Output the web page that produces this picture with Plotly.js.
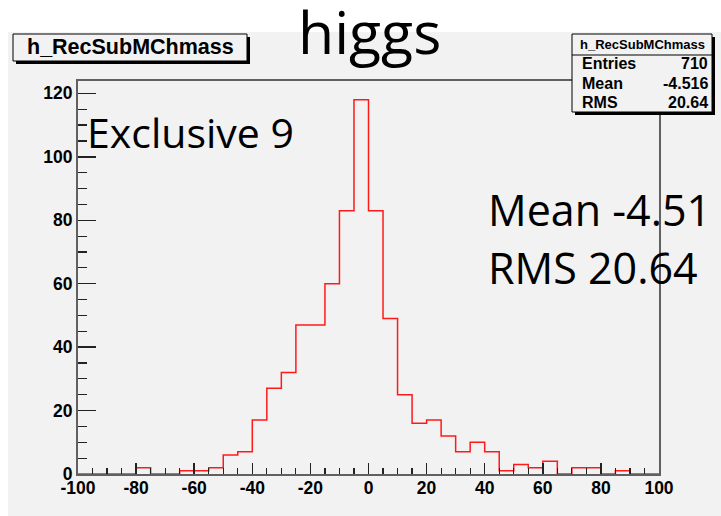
<!DOCTYPE html>
<html>
<head>
<meta charset="utf-8">
<script src="https://cdn.plot.ly/plotly-3.0.1.min.js"></script>
<style>
html,body{margin:0;padding:0;background:#fff;}
#chart{width:721px;height:516px;}
</style>
</head>
<body>
<div id="chart"></div>
<script>
// ---- data ----
var binLow = -100;
var binWidth = 5;
var counts = [0, 0, 0, 0, 2, 0, 0, 1, 1, 2,
              6, 7, 17, 27, 32, 47, 47, 60, 83, 118,
              83, 49, 25, 16, 17, 12, 7, 10, 7, 1,
              3, 2, 4, 0, 2, 2, 0, 1, 0, 0];
var xTickVals = [-100, -80, -60, -40, -20, 0, 20, 40, 60, 80, 100];
var yTickVals = [0, 20, 40, 60, 80, 100, 120];
var histName = "h_RecSubMChmass";
var statLabels = ["Entries", "Mean", "RMS"];
var statValues = ["710", "-4.516", "20.64"];
var titleText = "higgs";
var noteText = "Exclusive 9";
var meanText = "Mean -4.51";
var rmsText = "RMS 20.64";

// ---- step outline built from bins ----
var edges = [];
for (var i = 0; i <= counts.length; i++) edges.push(binLow + i * binWidth);
var xs = [edges[0]], ys = [0];
for (var i = 0; i < counts.length; i++) { xs.push(edges[i]); ys.push(counts[i]); }
xs.push(edges[counts.length]); ys.push(counts[counts.length - 1]);
xs.push(edges[counts.length]); ys.push(0);

// ---- pixel -> paper helpers ----
var L = 78, T = 81, W = 581, H = 393, FW = 721, FH = 516;
function px(x) { return (x - L) / W; }
function py(y) { return (T + H - y) / H; }

var GRAY = '#f2f2f2';
var helv = 'Liberation Sans, Arial, sans-serif';
var calib = 'Open Sans, Noto Sans, sans-serif';

var shapes = [
  // canvas gray area
  {type:'rect', xref:'paper', yref:'paper', x0:px(8), x1:px(721), y0:py(516), y1:py(32),
   fillcolor:GRAY, line:{width:0}, layer:'below'},
  // title box shadow + box
  {type:'rect', xref:'paper', yref:'paper', x0:px(16), x1:px(250), y0:py(64), y1:py(37),
   fillcolor:'#000', line:{width:0}, layer:'above'},
  {type:'rect', xref:'paper', yref:'paper', x0:px(13), x1:px(247), y0:py(61), y1:py(34),
   fillcolor:GRAY, line:{color:'#000', width:1}, layer:'above'},
  // stats box shadow + box
  {type:'rect', xref:'paper', yref:'paper', x0:px(575), x1:px(715), y0:py(115), y1:py(37),
   fillcolor:'#000', line:{width:0}, layer:'above'},
  {type:'rect', xref:'paper', yref:'paper', x0:px(572), x1:px(712), y0:py(112), y1:py(34),
   fillcolor:GRAY, line:{color:'#000', width:1}, layer:'above'},
  {type:'line', xref:'paper', yref:'paper', x0:px(572), x1:px(712), y0:py(55), y1:py(55),
   line:{color:'#000', width:1}, layer:'above'}
];

var annotations = [
  {text:titleText, xref:'paper', yref:'paper', x:px(369), y:py(31), xanchor:'center', yanchor:'middle',
   showarrow:false, font:{family:calib, size:59, color:'#000'}},
  {text:noteText, xref:'paper', yref:'paper', x:px(85), y:py(132), xanchor:'left', yanchor:'middle',
   showarrow:false, font:{family:calib, size:41, color:'#000'}},
  {text:meanText, xref:'paper', yref:'paper', x:px(486), y:py(209), xanchor:'left', yanchor:'middle',
   showarrow:false, font:{family:calib, size:43, color:'#000'}},
  {text:rmsText, xref:'paper', yref:'paper', x:px(486), y:py(267), xanchor:'left', yanchor:'middle',
   showarrow:false, font:{family:calib, size:43, color:'#000'}},
  {text:'<b>' + histName + '</b>', xref:'paper', yref:'paper', x:px(130), y:py(47.5), xanchor:'center', yanchor:'middle',
   showarrow:false, font:{family:helv, size:21.5, color:'#000'}},
  {text:'<b>' + histName + '</b>', xref:'paper', yref:'paper', x:px(642), y:py(44.5), xanchor:'center', yanchor:'middle',
   showarrow:false, font:{family:helv, size:13, color:'#000'}}
];
var rowY = [63.5, 83.5, 103];
for (var k = 0; k < statLabels.length; k++) {
  annotations.push({text:'<b>' + statLabels[k] + '</b>', xref:'paper', yref:'paper', x:px(580), y:py(rowY[k]),
    xanchor:'left', yanchor:'middle', showarrow:false, font:{family:helv, size:16, color:'#000'}});
  annotations.push({text:'<b>' + statValues[k] + '</b>', xref:'paper', yref:'paper', x:px(710), y:py(rowY[k]),
    xanchor:'right', yanchor:'middle', showarrow:false, font:{family:helv, size:16, color:'#000'}});
}

var trace = {
  type:'scatter', mode:'lines', x:xs, y:ys,
  line:{shape:'hv', color:'#ff1a1a', width:1.5},
  hoverinfo:'skip', cliponaxis:true
};

var layout = {
  width:FW, height:FH,
  margin:{l:L, r:FW - L - W, t:T, b:FH - T - H, pad:0},
  paper_bgcolor:'#ffffff', plot_bgcolor:GRAY,
  showlegend:false, hovermode:false,
  xaxis:{range:[-100, 100], tickmode:'array', tickvals:xTickVals, ticktext:xTickVals.map(String),
    ticks:'inside', ticklen:11, tickwidth:1.5, tickcolor:'#222', ticklabelstandoff:-3,
    minor:{tickmode:'linear', tick0:0, dtick:5, ticks:'inside', ticklen:6, tickwidth:1.2, tickcolor:'#222'},
    showgrid:false, zeroline:false, showline:true, mirror:true, linecolor:'#606060', linewidth:2,
    tickfont:{family:helv, size:17.5, color:'#000', weight:'bold'}, fixedrange:true},
  yaxis:{range:[0, 123.9], tickmode:'array', tickvals:yTickVals, ticktext:yTickVals.map(String),
    ticks:'inside', ticklen:18, tickwidth:1.5, tickcolor:'#222',
    minor:{tickmode:'linear', tick0:0, dtick:5, ticks:'inside', ticklen:9, tickwidth:1.2, tickcolor:'#222'},
    showgrid:false, zeroline:false, showline:true, mirror:true, linecolor:'#606060', linewidth:2,
    tickfont:{family:helv, size:17.5, color:'#000', weight:'bold'}, fixedrange:true},
  shapes:shapes,
  annotations:annotations
};

Plotly.newPlot('chart', [trace], layout, {staticPlot:true, displayModeBar:false});
</script>
</body>
</html>
